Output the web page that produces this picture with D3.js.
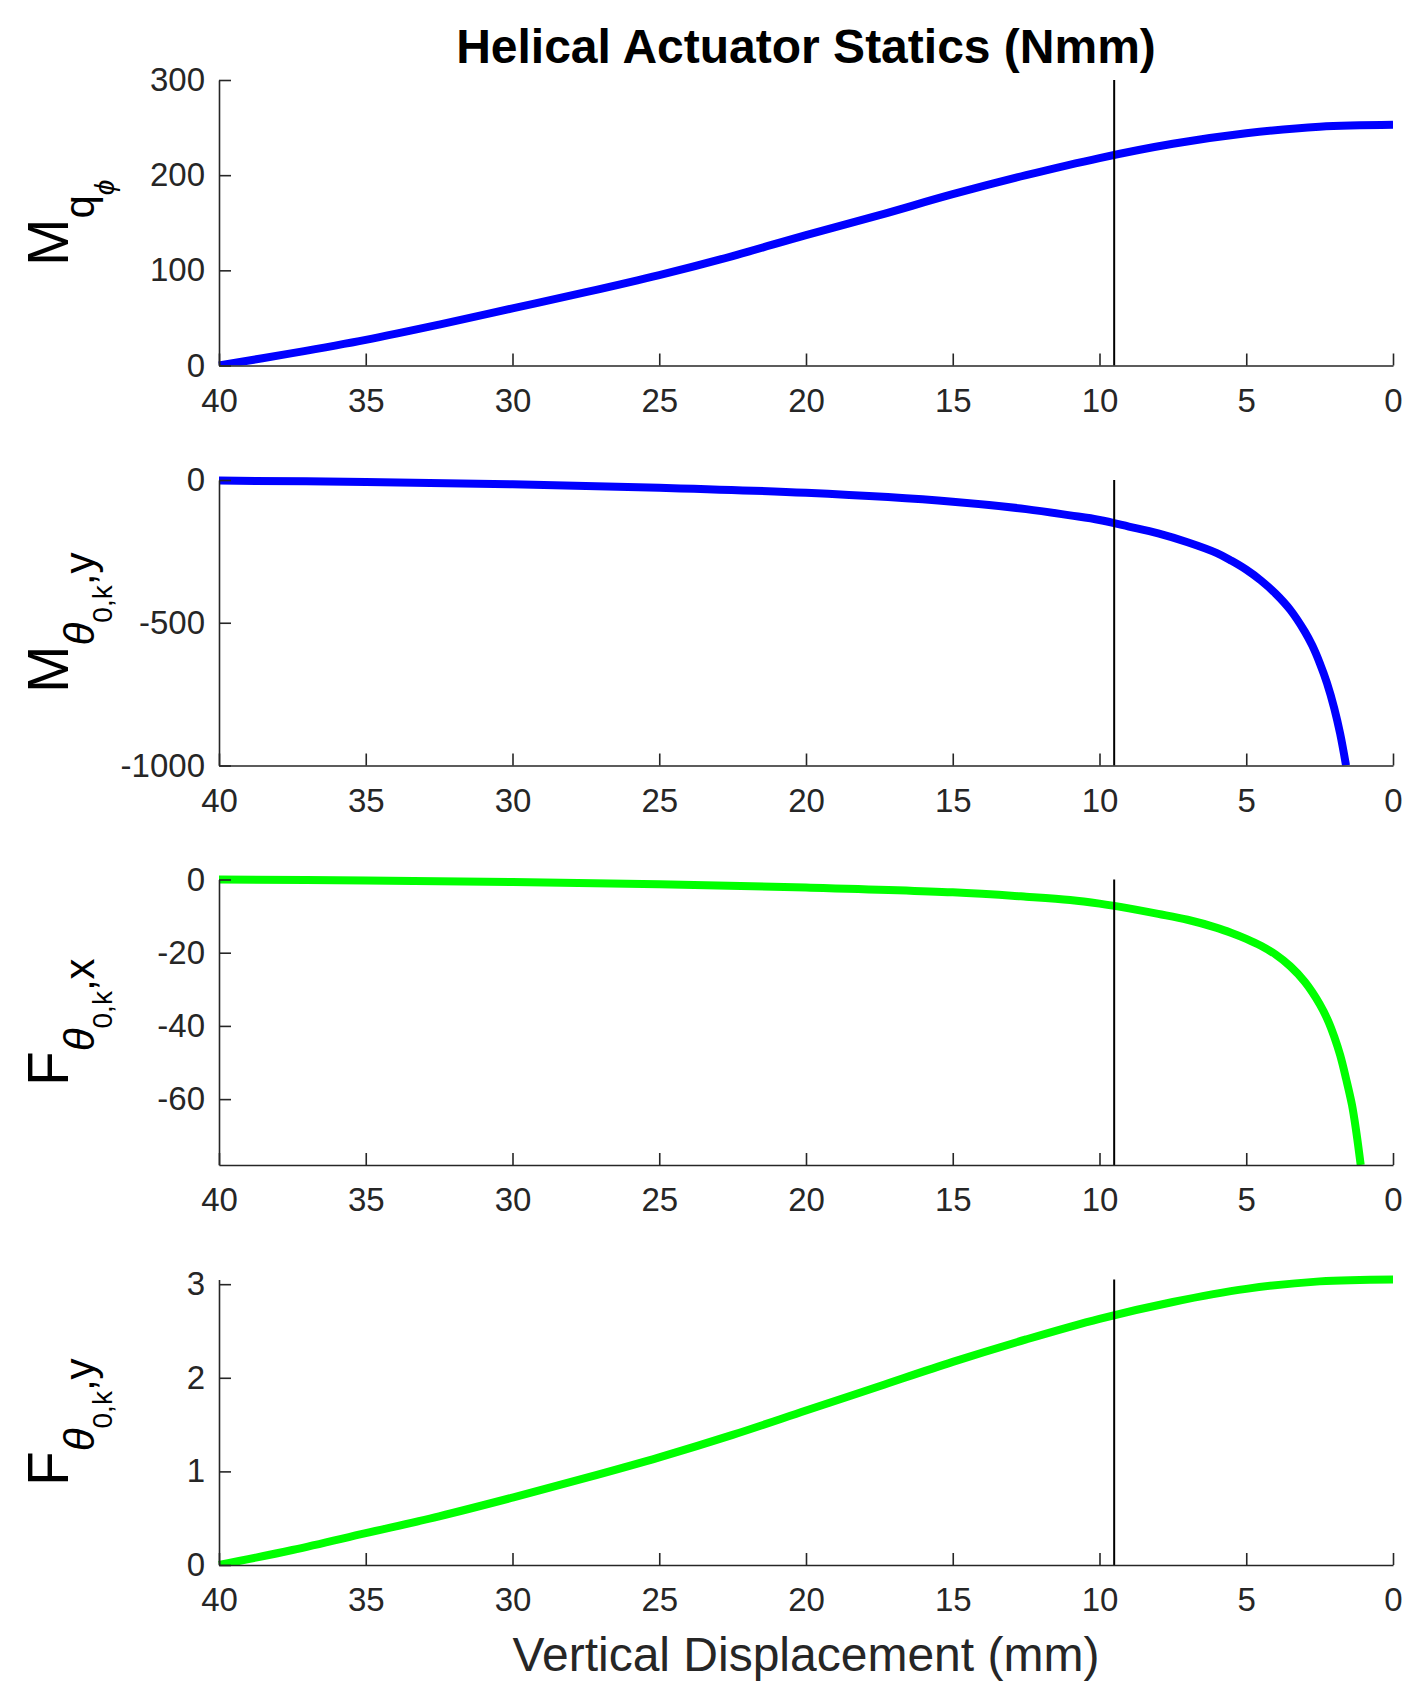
<!DOCTYPE html>
<html>
<head>
<meta charset="utf-8">
<script src="https://cdn.jsdelivr.net/npm/d3@7"></script>
<style>
  html, body { margin: 0; padding: 0; background: #fff; }
  svg { display: block; }
  text { font-family: "Liberation Sans", Arial, Helvetica, sans-serif; }
</style>
</head>
<body>
<svg id="chart" width="1424" height="1700"></svg>
<script>
// ---- data ----
const titleText = "Helical Actuator Statics (Nmm)";
const xLabelText = "Vertical Displacement (mm)";
const xTicks = [40, 35, 30, 25, 20, 15, 10, 5, 0];
const markerX = 9.5;

const xA = [40, 37.5, 35, 32.5, 30, 27.5, 25, 22.5, 20, 17.5, 15, 12.5, 10, 7.5, 5, 2.5, 0];
const mQphi = [0, 13, 27, 43, 60, 77, 95, 115, 137, 158, 180, 200, 218, 233, 244, 251, 253];
const fThetaY = [0, 0.16, 0.34, 0.52, 0.72, 0.93, 1.15, 1.39, 1.65, 1.91, 2.17, 2.41, 2.63, 2.81, 2.95, 3.03, 3.05];

const xB = [40, 35, 30, 25, 20, 15, 12.5, 11, 10, 9, 8, 7, 6, 5.5, 5, 4.5, 4, 3.5, 3, 2.75, 2.5, 2.25, 2, 1.8, 1.6];
const mThetaY = [-2, -7, -15, -27, -45, -76, -102, -124, -140, -163, -187, -218, -256, -283, -314, -352, -398, -455, -532, -580, -640, -711, -800, -889, -1000];

const xC = [40, 35, 30, 25, 20, 15, 12.5, 11, 10, 9, 8, 7, 6, 5.5, 5, 4.5, 4, 3.5, 3, 2.5, 2.2, 2, 1.8, 1.6, 1.4, 1.25, 1.1];
const fThetaX = [0, -0.3, -0.7, -1.3, -2.2, -3.5, -4.7, -5.6, -6.6, -7.9, -9.4, -11.0, -13.2, -14.6, -16.2, -18.1, -20.5, -23.7, -28, -34, -38.8, -43, -48, -54.4, -61.5, -69, -78];

const yDomain1 = [0, 300],    yTicks1 = [0, 100, 200, 300];
const yDomain2 = [-1000, 0],  yTicks2 = [-1000, -500, 0];
const yDomain3 = [-78, 0],    yTicks3 = [-60, -40, -20, 0];
const yDomain4 = [0, 3.05],   yTicks4 = [0, 1, 2, 3];

// ---- layout ----
const svg = d3.select("#chart");
const left = 219, right = 1393;
const tops = [80, 480, 879.5, 1279.5];
const plotH = 285.5;
const axisColor = "#262626";
const fmt = d => String(d); // plain hyphen-minus like the reference

const x = d3.scaleLinear().domain([40, 0]).range([left, right]);

const panels = [
  { xs: xA, ys: mQphi,   domain: yDomain1, ticks: yTicks1, color: "#0000ff",
    label: [["M", 57, 0, false], ["q", 42, 26, false], ["\u03D5", 28, 20, true]] },
  { xs: xB, ys: mThetaY, domain: yDomain2, ticks: yTicks2, color: "#0000ff",
    label: [["M", 57, 0, false], ["\u03B8", 42, 26, true], ["0,k", 28, 18, false], [",y", 42, -18, false]] },
  { xs: xC, ys: fThetaX, domain: yDomain3, ticks: yTicks3, color: "#00ff00",
    label: [["F", 57, 0, false], ["\u03B8", 42, 26, true], ["0,k", 28, 18, false], [",x", 42, -18, false]] },
  { xs: xA, ys: fThetaY, domain: yDomain4, ticks: yTicks4, color: "#00ff00",
    label: [["F", 57, 0, false], ["\u03B8", 42, 26, true], ["0,k", 28, 18, false], [",y", 42, -18, false]] }
];

panels.forEach((p, i) => {
  const top = tops[i];
  const y = d3.scaleLinear().domain(p.domain).range([top + plotH, top]);
  const g = svg.append("g");

  // clip (only cuts the lines where they run off the bottom)
  const clipId = "clip" + i;
  svg.append("clipPath").attr("id", clipId)
    .append("rect").attr("x", left - 30).attr("y", top - 30)
    .attr("width", right - left + 60).attr("height", plotH + 30);

  // data line
  const pts = d3.sort(p.xs.map((v, k) => [v, p.ys[k]]), d => d[0]);
  const line = d3.line().x(d => x(d[0])).y(d => y(d[1])).curve(d3.curveCatmullRom.alpha(0.5));
  g.append("path").datum(pts)
    .attr("d", line)
    .attr("fill", "none")
    .attr("stroke", p.color)
    .attr("stroke-width", 8)
    .attr("clip-path", `url(#${clipId})`);

  // vertical marker line
  g.append("line")
    .attr("x1", x(markerX)).attr("x2", x(markerX))
    .attr("y1", y.range()[1]).attr("y2", y.range()[0])
    .attr("stroke", "#000").attr("stroke-width", 2);

  // axes
  const xAxis = d3.axisBottom(x).tickValues(xTicks).tickFormat(fmt)
    .tickSizeInner(-12).tickSizeOuter(0).tickPadding(23);
  const gx = g.append("g").attr("transform", `translate(0,${top + plotH})`).call(xAxis);
  const yAxis = d3.axisLeft(y).tickValues(p.ticks).tickFormat(fmt)
    .tickSizeInner(-12).tickSizeOuter(0).tickPadding(14);
  const gy = g.append("g").attr("transform", `translate(${left},0)`).call(yAxis);

  [gx, gy].forEach(ax => {
    ax.select(".domain").attr("stroke", axisColor).attr("stroke-width", 1.6);
    ax.selectAll(".tick line").attr("stroke", axisColor).attr("stroke-width", 1.6);
    ax.selectAll(".tick text").attr("fill", axisColor)
      .style("font-size", "33px")
      .style("font-family", '"Liberation Sans", Arial, Helvetica, sans-serif');
  });

  // y label (rotated, with sub/superscripts)
  const cy = top + plotH / 2;
  const t = svg.append("text")
    .attr("transform", `translate(68,${cy}) rotate(-90)`)
    .attr("text-anchor", "middle")
    .attr("fill", "#000");
  p.label.forEach(([s, size, dy, italic]) => {
    t.append("tspan").text(s)
      .attr("dy", dy)
      .style("font-size", size + "px")
      .style("font-style", italic ? "italic" : "normal");
  });
});

// title
svg.append("text")
  .attr("x", (left + right) / 2).attr("y", 63)
  .attr("text-anchor", "middle")
  .style("font-size", "48px").style("font-weight", "bold")
  .attr("fill", "#000")
  .text(titleText);

// x label
svg.append("text")
  .attr("x", (left + right) / 2).attr("y", 1671)
  .attr("text-anchor", "middle")
  .style("font-size", "48px")
  .attr("fill", axisColor)
  .text(xLabelText);
</script>
</body>
</html>
